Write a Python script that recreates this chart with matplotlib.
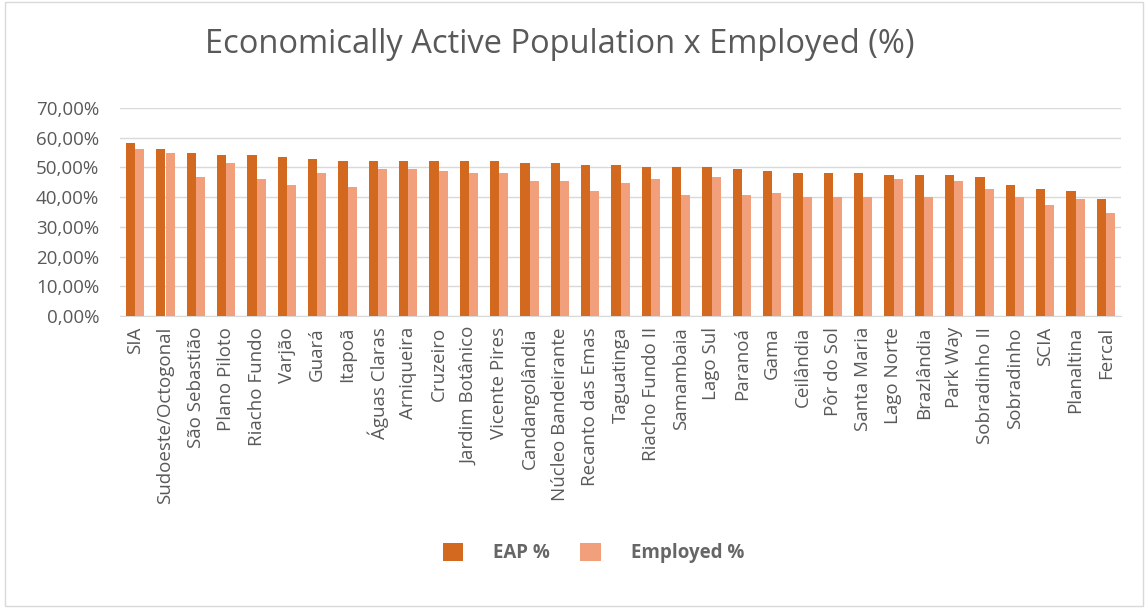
import matplotlib
matplotlib.use("Agg")
import matplotlib.pyplot as plt
import numpy as np
from matplotlib.ticker import FuncFormatter
from matplotlib.patches import Rectangle

categories = ["SIA", "Sudoeste/Octogonal", "São Sebastião", "Plano Piloto", "Riacho Fundo",
              "Varjão", "Guará", "Itapoã", "Águas Claras", "Arniqueira", "Cruzeiro",
              "Jardim Botânico", "Vicente Pires", "Candangolândia", "Núcleo Bandeirante",
              "Recanto das Emas", "Taguatinga", "Riacho Fundo II", "Samambaia", "Lago Sul",
              "Paranoá", "Gama", "Ceilândia", "Pôr do Sol", "Santa Maria", "Lago Norte",
              "Brazlândia", "Park Way", "Sobradinho II", "Sobradinho", "SCIA", "Planaltina",
              "Fercal"]
eap = [58.1, 56.1, 54.8, 54.1, 54.1, 53.4, 52.7, 52.1, 52.1, 52.1, 52.1,
       52.1, 52.1, 51.4, 51.4, 50.7, 50.7, 50.0, 50.0, 50.0, 49.4, 48.7,
       48.0, 48.0, 48.0, 47.3, 47.3, 47.3, 46.7, 44.0, 42.6, 42.0, 39.3]
employed = [56.1, 54.8, 46.7, 51.4, 46.0, 44.0, 48.0, 43.3, 49.6, 49.4, 48.7,
            48.0, 48.0, 45.3, 45.3, 42.0, 44.7, 46.0, 40.6, 46.7, 40.6, 41.3,
            40.2, 40.2, 40.2, 46.0, 40.2, 45.3, 42.6, 39.9, 37.2, 39.3, 34.6]
yticks = [0, 10, 20, 30, 40, 50, 60, 70]

plt.rcParams['font.family'] = ['Open Sans', 'DejaVu Sans']
fig = plt.figure(figsize=(11.48, 6.08), dpi=100)
fig.patches.append(Rectangle((0.004, 0.004), 0.992, 0.992, transform=fig.transFigure,
                             fill=False, edgecolor='#d9d9d9', linewidth=1))
ax = fig.add_axes([120/1148, 1 - 316/608, (1121-120)/1148, (316-108)/608])

x = np.arange(len(categories))
w = 0.3
ax.bar(x - w/2, eap, w, color='#D2691F', label='EAP %', zorder=3)
ax.bar(x + w/2, employed, w, color='#F2A07C', label='Employed %', zorder=3)

ax.set_ylim(0, 70)
ax.set_xlim(-0.5, len(categories) - 0.5)
ax.set_yticks(yticks)
ax.yaxis.set_major_formatter(FuncFormatter(lambda v, p: f"{v:.2f}%".replace('.', ',')))
ax.grid(axis='y', color='#d9d9d9', linewidth=1, zorder=0)
for s in ['top', 'right', 'left']:
    ax.spines[s].set_visible(False)
ax.spines['bottom'].set_color('#d9d9d9')
ax.tick_params(axis='both', length=0, labelsize=13.5, labelcolor='#595959')
ax.tick_params(axis='y', pad=15)
ax.tick_params(axis='x', pad=8)
ax.set_xticks(x)
ax.set_xticklabels(categories, rotation=90)

fig.text(0.488, 0.926, "Economically Active Population x Employed (%)", ha='center', va='center',
         fontsize=23.5, color='#595959')

leg = fig.legend(loc='center', bbox_to_anchor=(0.517, 0.09), ncol=2, frameon=False,
                 fontsize=13.5, handlelength=1.1, handleheight=1.1, columnspacing=1.6,
                 handletextpad=1.6)
for t in leg.get_texts():
    t.set_color('#666666')
    t.set_fontweight('bold')

fig.savefig("out.png", dpi=100)
